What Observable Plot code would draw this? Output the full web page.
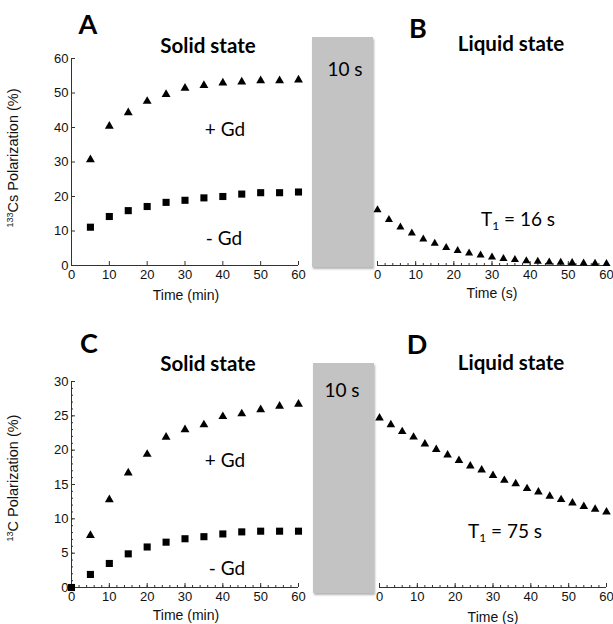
<!DOCTYPE html>
<html><head><meta charset="utf-8">
<script src="https://cdn.jsdelivr.net/npm/d3@7"></script>
<script src="https://cdn.jsdelivr.net/npm/@observablehq/plot@0.6"></script>
<style>
body{margin:0;background:#fff;}
#fig{position:relative;width:613px;height:624px;overflow:hidden;background:#fff;}
.p{position:absolute;}
.lbl{position:absolute;transform:translate(-50%,-50%);white-space:nowrap;font-family:Lato,"Open Sans",sans-serif;color:#000;line-height:1;}
.big{font-weight:bold;font-size:27px;}
.title{font-weight:bold;font-size:20.5px;}
.ann{font-size:19px;}
.ann sub{font-size:12px;vertical-align:-4px;line-height:0;}
.axl{position:absolute;transform:translate(-50%,-50%);white-space:nowrap;font-family:"Liberation Sans",Arial,sans-serif;font-size:14px;color:#111;line-height:1;}
.axl sup{font-size:9px;vertical-align:5px;line-height:0;}
.ylab{transform:translate(-50%,-50%) rotate(-90deg);font-size:14.5px;}
.box{position:absolute;background:#c3c3c3;box-shadow:1px 2px 2px rgba(0,0,0,0.3);}
</style></head><body><div id="fig"></div>
<script>
// ---- data ----
const timeMin = [5, 10, 15, 20, 25, 30, 35, 40, 45, 50, 55, 60];
const timeMinC = [0, 5, 10, 15, 20, 25, 30, 35, 40, 45, 50, 55, 60];
const timeSec = [0, 3, 6, 9, 12, 15, 18, 21, 24, 27, 30, 33, 36, 39, 42, 45, 48, 51, 54, 57, 60];
const csPlusGd = [30.7, 40.4, 44.3, 47.6, 49.6, 51.4, 52.2, 52.9, 53.2, 53.6, 53.6, 53.8];
const csMinusGd = [11.1, 14.2, 15.9, 17.1, 18.3, 18.9, 19.6, 20.0, 20.7, 21.1, 21.1, 21.3];
const csLiquid = [16.1, 13.3, 11.1, 9.4, 7.6, 6.4, 5.2, 4.3, 3.6, 3.0, 2.4, 2.0, 1.7, 1.3, 1.2, 1.0, 0.9, 0.8, 0.7, 0.6, 0.5];
const cPlusGd = [7.6, 12.8, 16.7, 19.4, 21.9, 23.0, 23.7, 24.9, 25.3, 25.9, 26.4, 26.7];
const cMinusGd = [0, 1.9, 3.5, 4.9, 5.9, 6.6, 7.1, 7.4, 7.8, 8.1, 8.2, 8.2, 8.2];
const cLiquid = [24.7, 23.7, 22.7, 21.9, 20.9, 20.1, 19.3, 18.5, 17.7, 17.1, 16.3, 15.6, 15.1, 14.4, 13.9, 13.3, 12.8, 12.3, 11.8, 11.4, 11.0];
const xTicks = [0, 10, 20, 30, 40, 50, 60];
const xMinorTicks = [0, 2, 4, 6, 8, 10, 12, 14, 16, 18, 20, 22, 24, 26, 28, 30, 32, 34, 36, 38, 40, 42, 44, 46, 48, 50, 52, 54, 56, 58, 60];
const yTicksCs = [0, 10, 20, 30, 40, 50, 60];
const yTicksC = [0, 5, 10, 15, 20, 25, 30];
const yMinorTicksC = [0,1,2,3,4,5,6,7,8,9,10,11,12,13,14,15,16,17,18,19,20,21,22,23,24,25,26,27,28,29,30];

const fig = document.getElementById("fig");
const zip = (xs, ys) => xs.map((x, i) => ({t: x, v: ys[i]}));

function panel(o) {
  const marks = [
    Plot.ruleY([0], {stroke: "#333", strokeWidth: 1}),
    Plot.axisX({ticks: xTicks, tickSize: -4, tickPadding: 8, label: null, fontSize: 13, color: "#111", stroke: "#333"})
  ];
  if (o.xMinor) marks.push(Plot.axisX({ticks: xMinorTicks, tickSize: -2, tickFormat: () => "", label: null, stroke: "#333"}));
  if (o.yTicks) {
    marks.push(Plot.ruleX([0], {stroke: "#333", strokeWidth: 1}));
    marks.push(Plot.axisY({ticks: o.yTicks, tickSize: -4, tickPadding: 7, label: null, fontSize: 13, color: "#111", stroke: "#333"}));
    if (o.yMinor) marks.push(Plot.axisY({ticks: o.yMinor, tickSize: -2, tickFormat: () => "", label: null, stroke: "#333"}));
  }
  for (const s of o.series) {
    marks.push(Plot.dot(s.data, {x: "t", y: "v", symbol: s.symbol, r: s.r, fill: "#000", stroke: "none"}));
  }
  const svg = Plot.plot({
    width: o.width, height: o.height,
    marginLeft: o.mL, marginRight: o.mR, marginTop: o.mT, marginBottom: o.mB,
    x: {domain: [0, 60]},
    y: o.yTicks ? {domain: o.yDomain} : {domain: o.yDomain, axis: null},
    clip: false,
    style: {fontFamily: "'Liberation Sans', Arial, sans-serif", fontSize: "13px", background: "transparent", overflow: "visible", color: "#111"},
    marks
  });
  svg.classList.add("p");
  svg.style.left = o.left + "px";
  svg.style.top = o.top + "px";
  fig.appendChild(svg);
}

panel({left: 0, top: 0, width: 310, height: 300, mL: 71, mR: 12, mT: 58, mB: 35, yDomain: [0, 60], yTicks: yTicksCs,
  series: [{data: zip(timeMin, csPlusGd), symbol: "triangle", r: 3.3}, {data: zip(timeMin, csMinusGd), symbol: "square", r: 4}]});
panel({left: 300, top: 0, width: 313, height: 300, mL: 77, mR: 7, mT: 58, mB: 35, yDomain: [0, 60], xMinor: true,
  series: [{data: zip(timeSec, csLiquid), symbol: "triangle", r: 3}]});
panel({left: 0, top: 300, width: 310, height: 324, mL: 71, mR: 12, mT: 81, mB: 37, yDomain: [0, 30], yTicks: yTicksC, yMinor: yMinorTicksC, xMinor: true,
  series: [{data: zip(timeMin, cPlusGd), symbol: "triangle", r: 3.3}, {data: zip(timeMinC, cMinusGd), symbol: "square", r: 4}]});
panel({left: 300, top: 300, width: 313, height: 324, mL: 79, mR: 7, mT: 81, mB: 37, yDomain: [0, 30], xMinor: true,
  series: [{data: zip(timeSec, cLiquid), symbol: "triangle", r: 3.2}]});

// grey "transfer" boxes
function box(l, t, w, h, txtX, txtY) {
  const d = document.createElement("div");
  d.className = "box";
  Object.assign(d.style, {left: l + "px", top: t + "px", width: w + "px", height: h + "px"});
  fig.appendChild(d);
  label("10 s", txtX, txtY, "lbl ann");
}
function label(html, x, y, cls) {
  const d = document.createElement("div");
  d.className = cls;
  d.innerHTML = html;
  d.style.left = x + "px";
  d.style.top = y + "px";
  fig.appendChild(d);
}
box(312, 37, 61, 230, 345, 68);
box(313, 363, 61, 230, 342, 389);

label("A", 88, 23, "lbl big");
label("B", 418, 27, "lbl big");
label("C", 89, 342, "lbl big");
label("D", 417, 343, "lbl big");
label("Solid state", 208, 45, "lbl title");
label("Liquid state", 511, 43, "lbl title");
label("Solid state", 208, 363, "lbl title");
label("Liquid state", 511, 362, "lbl title");
label("+ Gd", 225, 128, "lbl ann");
label("- Gd", 224, 237, "lbl ann");
label("+ Gd", 225, 459, "lbl ann");
label("- Gd", 227, 567, "lbl ann");
label("T<sub>1</sub> = 16 s", 518, 218, "lbl ann");
label("T<sub>1</sub> = 75 s", 505, 530, "lbl ann");
label("Time (min)", 186, 295, "axl");
label("Time (s)", 492, 293, "axl");
label("Time (min)", 186, 615, "axl");
label("Time (s)", 493, 617, "axl");
label("<sup>133</sup>Cs Polarization (%)", 13, 158, "axl ylab");
label("<sup>13</sup>C Polarization (%)", 13, 478, "axl ylab");
</script></body></html>
